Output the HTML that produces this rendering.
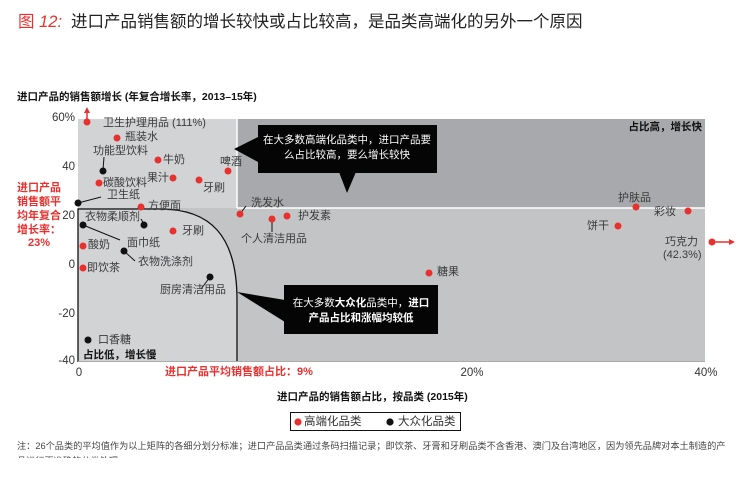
<!DOCTYPE html>
<html><head><meta charset="utf-8"><style>
html,body{margin:0;padding:0;background:#fff;}
svg{display:block;}
text{font-family:"Liberation Sans","Noto Sans CJK SC",sans-serif;}
.l{font-size:11px;fill:#3a3a3a;}
.t{font-size:11.5px;fill:#333;}
.b{font-size:10.5px;font-weight:bold;fill:#111;}
.r{font-size:11px;font-weight:bold;fill:#e8312f;}
.w{font-size:10.5px;fill:#fff;}
</style></head><body>
<svg width="748" height="480" viewBox="0 0 748 480" xmlns="http://www.w3.org/2000/svg">
<defs>
<clipPath id="fn"><rect x="0" y="437" width="748" height="21"/></clipPath>
</defs>
<!-- title -->
<text x="18" y="22" dominant-baseline="central" style="font-size:16.5px;fill:#e8312f;">图 <tspan font-style="italic">12:</tspan></text>
<text x="71" y="22" dominant-baseline="central" style="font-size:16.5px;fill:#222;">进口产品销售额的增长较快或占比较高，是品类高端化的另外一个原因</text>

<!-- y axis title -->
<text x="17" y="97" dominant-baseline="central" class="b">进口产品的销售额增长 (年复合增长率，2013–15年)</text>

<!-- quadrants -->
<rect x="78" y="119" width="159" height="89" fill="#d2d3d5"/>
<rect x="237" y="119" width="468" height="89" fill="#a8a9ac"/>
<rect x="78" y="208" width="627" height="154" fill="#c3c4c6"/>
<line x1="237" y1="119" x2="237" y2="208" stroke="#fff" stroke-width="1.5"/>
<line x1="237" y1="208" x2="705" y2="208" stroke="#fff" stroke-width="1.5"/>
<path d="M78,362 L78,209 L160,209 C210,209 237,235 237,300 L237,362 Z" fill="#d2d3d5"/>
<path d="M78,362 L78,209 L160,209 C210,209 237,235 237,300 L237,362" fill="none" stroke="#111" stroke-width="1.3"/>
<line x1="78" y1="361.5" x2="705" y2="361.5" stroke="#aaa" stroke-width="1"/>

<!-- y ticks -->
<g class="t" text-anchor="end">
<text x="75" y="118" dominant-baseline="central">60%</text>
<text x="75" y="167" dominant-baseline="central">40</text>
<text x="75" y="216" dominant-baseline="central">20</text>
<text x="75" y="265" dominant-baseline="central">0</text>
<text x="75" y="314" dominant-baseline="central">-20</text>
<text x="75" y="361" dominant-baseline="central">-40</text>
</g>

<!-- left red annotation -->
<g class="r" text-anchor="middle">
<text x="39" y="188" dominant-baseline="central">进口产品</text>
<text x="39" y="202" dominant-baseline="central">销售额平</text>
<text x="39" y="216" dominant-baseline="central">均年复合</text>
<text x="39" y="230" dominant-baseline="central">增长率：</text>
<text x="39" y="243" dominant-baseline="central">23%</text>
</g>

<!-- x ticks -->
<g class="t" text-anchor="middle">
<text x="79" y="373" dominant-baseline="central">0</text>
<text x="472" y="373" dominant-baseline="central">20%</text>
<text x="706" y="373" dominant-baseline="central">40%</text>
</g>
<text x="165" y="372" dominant-baseline="central" class="r">进口产品平均销售额占比：9%</text>
<text x="277" y="397" dominant-baseline="central" class="b">进口产品的销售额占比，按品类 (2015年)</text>

<!-- legend -->
<rect x="290.5" y="412.5" width="170" height="18" fill="#fff" stroke="#111" stroke-width="1"/>
<circle cx="298" cy="422" r="3.6" fill="#e8312f"/>
<text x="304" y="422" dominant-baseline="central" class="t">高端化品类</text>
<circle cx="390" cy="422" r="3.6" fill="#111"/>
<text x="398" y="422" dominant-baseline="central" class="t">大众化品类</text>

<!-- footnote -->
<g clip-path="url(#fn)">
<text x="17" y="446" dominant-baseline="central" style="font-size:9.2px;fill:#444;">注：26个品类的平均值作为以上矩阵的各细分划分标准；进口产品品类通过条码扫描记录；即饮茶、牙膏和牙刷品类不含香港、澳门及台湾地区，因为领先品牌对本土制造的产</text>
<text x="17" y="461" dominant-baseline="central" style="font-size:9.2px;fill:#444;">品进行更准确的分类处理</text>
</g>

<!-- callouts -->
<rect x="258" y="125" width="179" height="48" fill="#050505"/>
<polygon points="258,137 258,162 234,149" fill="#050505"/>
<polygon points="339,172 356,172 347,193" fill="#050505"/>
<text x="347" y="140" text-anchor="middle" dominant-baseline="central" class="w">在大多数高端化品类中，进口产品要</text>
<text x="347" y="155" text-anchor="middle" dominant-baseline="central" class="w">么占比较高，要么增长较快</text>

<rect x="284" y="285" width="154" height="49" fill="#050505"/>
<polygon points="237,292 285,300 285,322" fill="#050505"/>
<text x="361" y="303" text-anchor="middle" dominant-baseline="central" class="w">在大多数<tspan font-weight="bold">大众化</tspan>品类中，<tspan font-weight="bold">进口</tspan></text>
<text x="361" y="318" text-anchor="middle" dominant-baseline="central" class="w" font-weight="bold">产品占比和涨幅均较低</text>

<!-- quadrant labels -->
<text x="702" y="127" text-anchor="end" dominant-baseline="central" class="b">占比高，增长快</text>
<text x="83" y="355" dominant-baseline="central" class="b">占比低，增长慢</text>

<!-- leader lines -->
<g stroke="#111" stroke-width="1" fill="none">
<line x1="104" y1="157" x2="103" y2="170"/>
<line x1="78" y1="203" x2="101" y2="197"/>
<line x1="141" y1="219" x2="144" y2="224"/>
<line x1="83" y1="225" x2="120" y2="240"/>
<line x1="124" y1="251" x2="135" y2="261"/>
<line x1="210" y1="277" x2="201" y2="289"/>
<line x1="240" y1="214" x2="246" y2="206"/>
<line x1="272" y1="219" x2="272" y2="232"/>
</g>

<!-- red arrows -->
<line x1="87" y1="122" x2="87" y2="112" stroke="#e8312f" stroke-width="1.5"/>
<polygon points="84,113 90,113 87,107" fill="#e8312f"/>
<line x1="712" y1="242" x2="730" y2="242" stroke="#e8312f" stroke-width="1.5"/>
<polygon points="729,239 729,245 735,242" fill="#e8312f"/>

<!-- red dots -->
<g fill="#e8312f">
<circle cx="87" cy="122" r="3.5"/>
<circle cx="117" cy="138" r="3.5"/>
<circle cx="158" cy="160" r="3.5"/>
<circle cx="173" cy="178" r="3.5"/>
<circle cx="199" cy="180" r="3.5"/>
<circle cx="228" cy="171" r="3.5"/>
<circle cx="99" cy="183" r="3.5"/>
<circle cx="141" cy="207" r="3.5"/>
<circle cx="173" cy="231" r="3.5"/>
<circle cx="83" cy="246" r="3.5"/>
<circle cx="83" cy="268" r="3.5"/>
<circle cx="240" cy="214" r="3.5"/>
<circle cx="272" cy="219" r="3.5"/>
<circle cx="287" cy="216" r="3.5"/>
<circle cx="429" cy="273" r="3.5"/>
<circle cx="636" cy="207" r="3.5"/>
<circle cx="688" cy="211" r="3.5"/>
<circle cx="618" cy="226" r="3.5"/>
<circle cx="712" cy="242" r="3.5"/>
</g>
<!-- black dots -->
<g fill="#111">
<circle cx="103" cy="171" r="3.5"/>
<circle cx="78" cy="203" r="3.5"/>
<circle cx="144" cy="225" r="3.5"/>
<circle cx="83" cy="225" r="3.5"/>
<circle cx="124" cy="251" r="3.5"/>
<circle cx="210" cy="277" r="3.5"/>
<circle cx="88" cy="340" r="3.5"/>
</g>

<!-- labels -->
<g class="l">
<text x="103" y="123" dominant-baseline="central">卫生护理用品 (111%)</text>
<text x="125" y="137" dominant-baseline="central">瓶装水</text>
<text x="93" y="151" dominant-baseline="central">功能型饮料</text>
<text x="163" y="160" dominant-baseline="central">牛奶</text>
<text x="147" y="178" dominant-baseline="central">果汁</text>
<text x="203" y="188" dominant-baseline="central">牙刷</text>
<text x="220" y="162" dominant-baseline="central">啤酒</text>
<text x="103" y="183" dominant-baseline="central">碳酸饮料</text>
<text x="107" y="195" dominant-baseline="central">卫生纸</text>
<text x="148" y="206" dominant-baseline="central">方便面</text>
<text x="85" y="217" dominant-baseline="central">衣物柔顺剂</text>
<text x="182" y="231" dominant-baseline="central">牙刷</text>
<text x="127" y="243" dominant-baseline="central">面巾纸</text>
<text x="88" y="245" dominant-baseline="central">酸奶</text>
<text x="138" y="262" dominant-baseline="central">衣物洗涤剂</text>
<text x="87" y="268" dominant-baseline="central">即饮茶</text>
<text x="160" y="290" dominant-baseline="central">厨房清洁用品</text>
<text x="98" y="340" dominant-baseline="central">口香糖</text>
<text x="251" y="203" dominant-baseline="central">洗发水</text>
<text x="241" y="239" dominant-baseline="central">个人清洁用品</text>
<text x="298" y="216" dominant-baseline="central">护发素</text>
<text x="437" y="272" dominant-baseline="central">糖果</text>
<text x="618" y="198" dominant-baseline="central">护肤品</text>
<text x="654" y="212" dominant-baseline="central">彩妆</text>
<text x="587" y="226" dominant-baseline="central">饼干</text>
<text x="665" y="242" dominant-baseline="central">巧克力</text>
<text x="663" y="255" dominant-baseline="central">(42.3%)</text>
</g>
</svg>
</body></html>
